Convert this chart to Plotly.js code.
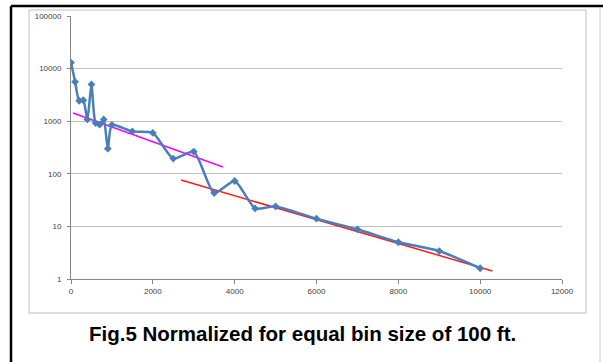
<!DOCTYPE html>
<html><head><meta charset="utf-8">
<script src="https://cdn.plot.ly/plotly-3.0.1.min.js"></script>
<style>html,body{margin:0;padding:0;background:#fff;}#c{width:603px;height:362px;}</style>
</head><body><div id="c"></div>
<script>
// Data
const distance = [0, 100, 200, 300, 400, 500, 600, 700, 800, 900, 1000, 1500, 2000, 2500, 3000, 3500, 4000, 4500, 5000, 6000, 7000, 8000, 9000, 10000];
const counts   = [13000, 5600, 2450, 2500, 1080, 5000, 920, 860, 1080, 300, 850, 640, 600, 195, 265, 43, 73, 22, 24, 14, 8.8, 5.0, 3.4, 1.6];
const trend1X = [50, 3715];
const trend1Y = [1430, 135];
const trend2X = [2690, 10300];
const trend2Y = [76, 1.42];
const xTicks = [0, 2000, 4000, 6000, 8000, 10000, 12000];
const yTicks = [1, 10, 100, 1000, 10000, 100000];
const caption = "Fig.5 Normalized for equal bin size of 100 ft.";

const W = 603, H = 362;
const L = 71, R = 562, T = 16, B = 279;
const pw = R - L, ph = B - T;
const px = x => (x - L) / pw;
const py = y => (B - y) / ph;

const traces = [
  {x: trend1X, y: trend1Y, mode: 'lines', line: {color: '#ff00ff', width: 1.5}, hoverinfo: 'skip'},
  {x: trend2X, y: trend2Y, mode: 'lines', line: {color: '#ff1a1a', width: 1.5}, hoverinfo: 'skip'},
  {x: distance, y: counts, mode: 'lines+markers',
   line: {color: '#4a7ebb', width: 2.5, shape: 'spline', smoothing: 0.6},
   marker: {symbol: 'diamond', size: 6, color: '#4a7ebb'}}
];

const layout = {
  width: W, height: H,
  margin: {l: L, r: W - R, t: T, b: H - B, pad: 0},
  paper_bgcolor: '#fff', plot_bgcolor: '#fff',
  showlegend: false,
  font: {family: 'Liberation Sans, Arial, sans-serif', size: 8, color: '#404040'},
  xaxis: {
    range: [0, 12000], tickvals: xTicks, ticktext: xTicks.map(String),
    showgrid: false, zeroline: false,
    showline: true, linecolor: '#868686', linewidth: 1,
    ticks: 'outside', ticklen: 4, tickcolor: '#868686',
    tickfont: {size: 8, color: '#404040'}
  },
  yaxis: {
    type: 'log', range: [0, 5], tickvals: yTicks, ticktext: yTicks.map(String),
    showgrid: true, gridcolor: '#bfbfbf', gridwidth: 1, zeroline: false,
    showline: true, linecolor: '#868686', linewidth: 1,
    ticks: 'outside', ticklen: 3, tickcolor: '#868686',
    tickfont: {size: 8, color: '#404040'}, ticklabelstandoff: 4
  },
  shapes: [
    {type: 'rect', xref: 'paper', yref: 'paper', x0: px(29), x1: px(586), y0: py(313), y1: py(10),
     line: {color: '#bfbfbf', width: 1}, layer: 'below'},
    {type: 'line', xref: 'paper', yref: 'paper', x0: px(11), x1: px(603), y0: py(6), y1: py(6),
     line: {color: '#000', width: 2.5}},
    {type: 'line', xref: 'paper', yref: 'paper', x0: px(11), x1: px(11), y0: py(6), y1: py(362),
     line: {color: '#000', width: 2.5}},
    {type: 'line', xref: 'paper', yref: 'paper', x0: px(600), x1: px(600), y0: py(7), y1: py(362),
     line: {color: '#c8c8c8', width: 1}}
  ],
  annotations: [
    {xref: 'paper', yref: 'paper', x: px(302), y: py(333), text: '<b>' + caption + '</b>', showarrow: false,
     xanchor: 'center', yanchor: 'middle',
     font: {family: 'Liberation Sans, Arial, sans-serif', size: 20.5, color: '#000'}}
  ]
};

Plotly.newPlot('c', traces, layout, {displayModeBar: false, staticPlot: true});
</script>
</body></html>
